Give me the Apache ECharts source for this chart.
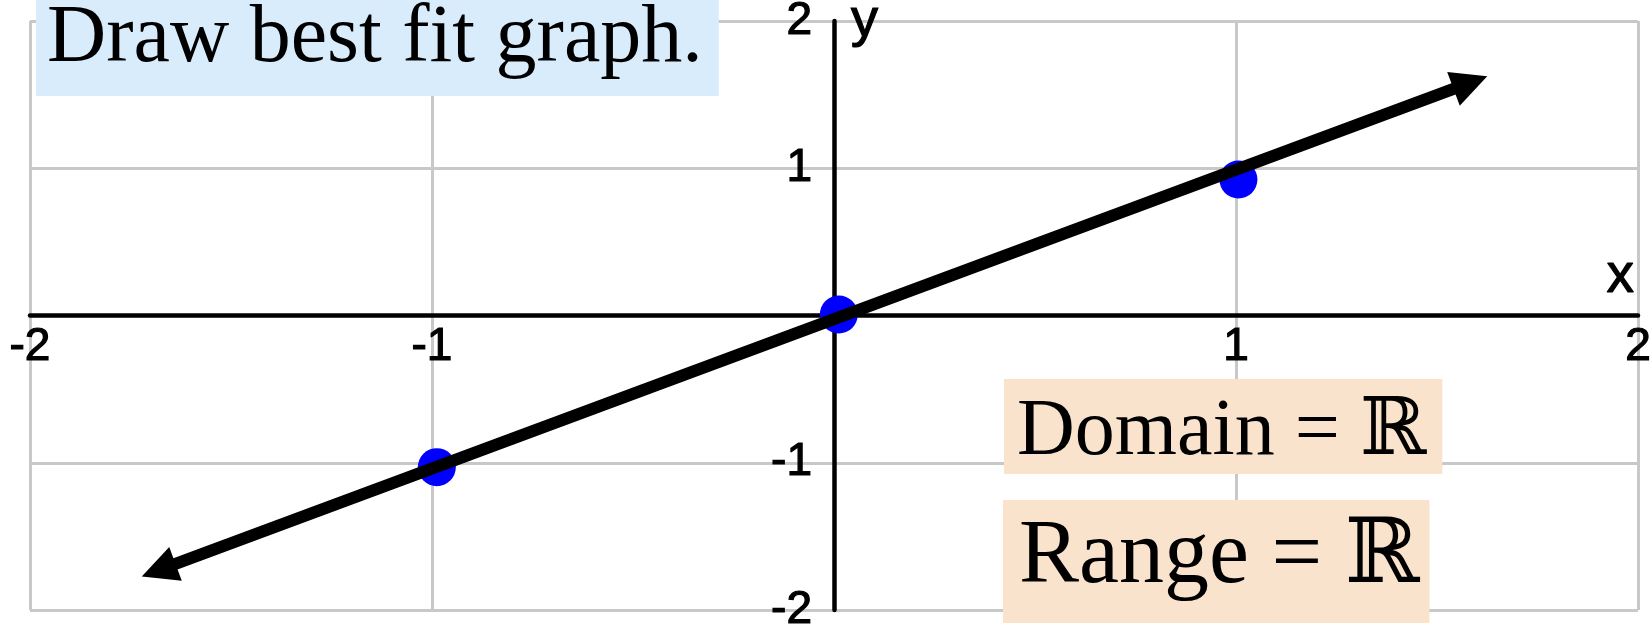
<!DOCTYPE html>
<html>
<head>
<meta charset="utf-8">
<style>
  html, body { margin: 0; padding: 0; background: #ffffff; }
  #chart { width: 1652px; height: 628px; }
</style>
<script src="https://cdn.jsdelivr.net/npm/echarts@6/dist/echarts.min.js"></script>
</head>
<body>
<div id="chart"></div>
<script>
// Plotted points (x, y)
const pointsX = [-0.988, 0.012, 1.006];
const pointsY = [-1.03, 0.007, 0.924];

// Best-fit line drawn between these two ends, with arrowheads
const fitStart = [-1.68, -1.73];
const fitEnd = [1.583, 1.582];

// Axis ticks; the origin is left unlabelled
const xTicks = [-2, -1, 0, 1, 2];
const yTicks = [-2, -1, 0, 1, 2];

// Annotation texts
const headingText = 'Draw best fit graph.';
const domainText = 'Domain = \u211D';
const rangeText = 'Range = \u211D';

const points = pointsX.map((x, i) => [x, pointsY[i]]);

function tickLabel(ticks) {
  return function (v) {
    return ticks.indexOf(v) >= 0 && v !== 0 ? String(v) : '';
  };
}

const W = 1652, H = 628;
const gridBox = { left: 30, right: 14, top: 21, bottom: 18 };
const xMin = xTicks[0], xMax = xTicks[xTicks.length - 1];
const yMin = yTicks[0], yMax = yTicks[yTicks.length - 1];

// Both axes cross at the origin, so shift each one from its grid edge to zero
const plotW = W - gridBox.left - gridBox.right;
const plotH = H - gridBox.top - gridBox.bottom;
const xAxisOffset = -plotH * (0 - yMin) / (yMax - yMin);
const yAxisOffset = -plotW * (0 - xMin) / (xMax - xMin);

const chart = echarts.init(document.getElementById('chart'), null, { renderer: 'canvas' });

const serif = '"Liberation Serif", "Times New Roman", "DejaVu Serif", serif';
const sans = '"Liberation Sans", Arial, sans-serif';

// Axis text is slightly heavier than the plain regular weight
const axisText = { fontFamily: sans, color: '#000', textBorderColor: '#000', textBorderWidth: 1.2 };

chart.setOption({
  animation: false,
  backgroundColor: '#ffffff',
  title: [
    {
      text: headingText,
      left: 36, top: 0,
      backgroundColor: '#d8ecfc',
      padding: [4, 16, 16, 11],
      textStyle: { fontFamily: serif, fontSize: 82, fontWeight: 'normal', color: '#000', lineHeight: 70 }
    },
    {
      text: domainText,
      left: 1004, top: 379,
      backgroundColor: '#f9e3cc',
      padding: [14, 16, 1, 13],
      textStyle: { fontFamily: serif, fontSize: 80, fontWeight: 'normal', color: '#000', lineHeight: 80 }
    },
    {
      text: rangeText,
      left: 1003, top: 500,
      backgroundColor: '#f9e3cc',
      padding: [13, 10, 20, 16],
      textStyle: { fontFamily: serif, fontSize: 90, fontWeight: 'normal', color: '#000', lineHeight: 90 }
    }
  ],
  grid: Object.assign({ containLabel: false, outerBoundsMode: 'none' }, gridBox),
  xAxis: {
    type: 'value',
    position: 'bottom',
    offset: xAxisOffset,
    min: xMin, max: xMax, interval: 1,
    name: 'x',
    nameLocation: 'end',
    nameGap: -4,
    nameTextStyle: Object.assign({ fontSize: 55, align: 'right', verticalAlign: 'bottom', padding: [0, 0, 11, 0] }, axisText),
    axisLine: { onZero: false, lineStyle: { color: '#000', width: 4.5 } },
    axisTick: { show: false },
    axisLabel: Object.assign({ formatter: tickLabel(xTicks), fontSize: 46, margin: 9 }, axisText),
    splitLine: { show: true, lineStyle: { color: '#c8c8c8', width: 3 } }
  },
  yAxis: {
    type: 'value',
    position: 'left',
    offset: yAxisOffset,
    min: yMin, max: yMax, interval: 1,
    name: 'y',
    nameLocation: 'end',
    nameGap: 0,
    nameTextStyle: Object.assign({ fontSize: 54, align: 'left', verticalAlign: 'middle', padding: [34, 0, 0, 17] }, axisText),
    axisLine: { onZero: false, lineStyle: { color: '#000', width: 4.5 } },
    axisTick: { show: false },
    axisLabel: Object.assign({ formatter: tickLabel(yTicks), fontSize: 46, margin: 22, padding: [30, 0, 0, 0] }, axisText),
    splitLine: { show: true, lineStyle: { color: '#c8c8c8', width: 3 } }
  },
  series: [
    {
      name: 'points',
      type: 'scatter',
      data: points,
      symbol: 'circle',
      symbolSize: 38,
      itemStyle: { color: '#0000ff', opacity: 1 },
      z: 3,
      silent: true
    },
    {
      name: 'fit',
      type: 'line',
      data: [],
      z: 4,
      silent: true,
      markLine: {
        silent: true,
        z: 6,
        symbol: ['triangle', 'triangle'],
        symbolSize: [36, 36],
        label: { show: false },
        lineStyle: { color: '#000', width: 12, type: 'solid' },
        emphasis: { disabled: true },
        data: [[{ coord: fitStart }, { coord: fitEnd }]]
      }
    }
  ]
});
</script>
</body>
</html>
